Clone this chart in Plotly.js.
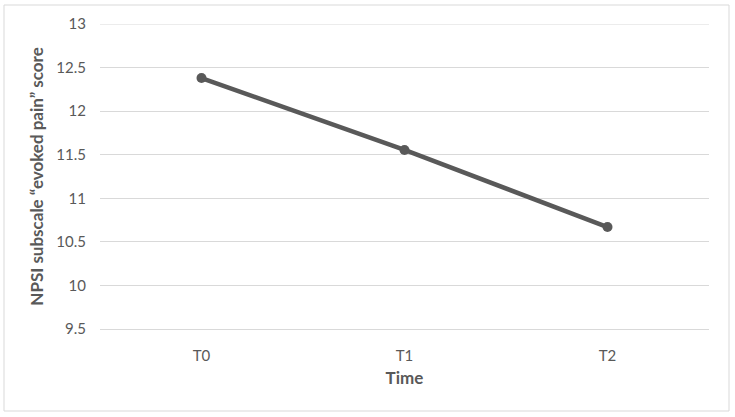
<!DOCTYPE html>
<html>
<head>
<meta charset="utf-8">
<script src="https://cdn.plot.ly/plotly-3.0.1.min.js"></script>
<style>
  body { margin: 0; background: #fff; }
  #grafica { width: 735px; height: 417px; }
</style>
</head>
<body>
<div id="grafica"></div>
<script>
// Datos
const tiempos = ["T0", "T1", "T2"];
const puntuaciones = [12.38, 11.555, 10.67];
const ticksY = [9.5, 10, 10.5, 11, 11.5, 12, 12.5, 13];

const gris = "#595959";
const fuente = "Lato, 'Open Sans', sans-serif";

const serie = {
    x: tiempos,
    y: puntuaciones,
    mode: "lines+markers",
    line: { color: gris, width: 4.5 },
    marker: { color: gris, size: 10 },
    hoverinfo: "x+y"
};

const layout = {
    width: 735,
    height: 417,
    margin: { l: 100, r: 26, t: 24, b: 88 },
    paper_bgcolor: "white",
    plot_bgcolor: "white",
    showlegend: false,
    font: { family: fuente, color: gris, size: 15 },
    xaxis: {
        type: "category",
        range: [-0.5, 2.5],
        showgrid: false,
        showline: true,
        linecolor: "#d9d9d9",
        linewidth: 1,
        ticks: "",
        ticklabelstandoff: 13,
        tickfont: { family: fuente, size: 15, color: gris },
        title: { text: "<b>Time</b>", font: { family: fuente, size: 17, color: gris }, standoff: 9 }
    },
    yaxis: {
        range: [9.5, 13],
        tickvals: ticksY,
        ticktext: ticksY.map(String),
        showgrid: true,
        gridcolor: "#d9d9d9",
        gridwidth: 1,
        zeroline: false,
        showline: false,
        ticks: "",
        ticklabelstandoff: 13,
        tickfont: { family: fuente, size: 15, color: gris },
        title: { text: "<b>NPSI subscale “evoked pain” score</b>", font: { family: fuente, size: 17, color: gris }, standoff: 8 }
    },
    shapes: [
        {
            // línea de rejilla superior (13)
            type: "line",
            xref: "paper", yref: "y",
            x0: 0, x1: 1, y0: 13, y1: 13,
            line: { color: "#d9d9d9", width: 1 },
            layer: "below"
        },
        {
            type: "rect",
            xref: "paper", yref: "paper",
            x0: (4 - 100) / 609, x1: (729 - 100) / 609,
            y0: (329 - 411) / 305, y1: (329 - 5) / 305,
            line: { color: "#d9d9d9", width: 1 },
            layer: "below"
        }
    ]
};

Plotly.newPlot("grafica", [serie], layout, { displayModeBar: false, staticPlot: true });
</script>
</body>
</html>
